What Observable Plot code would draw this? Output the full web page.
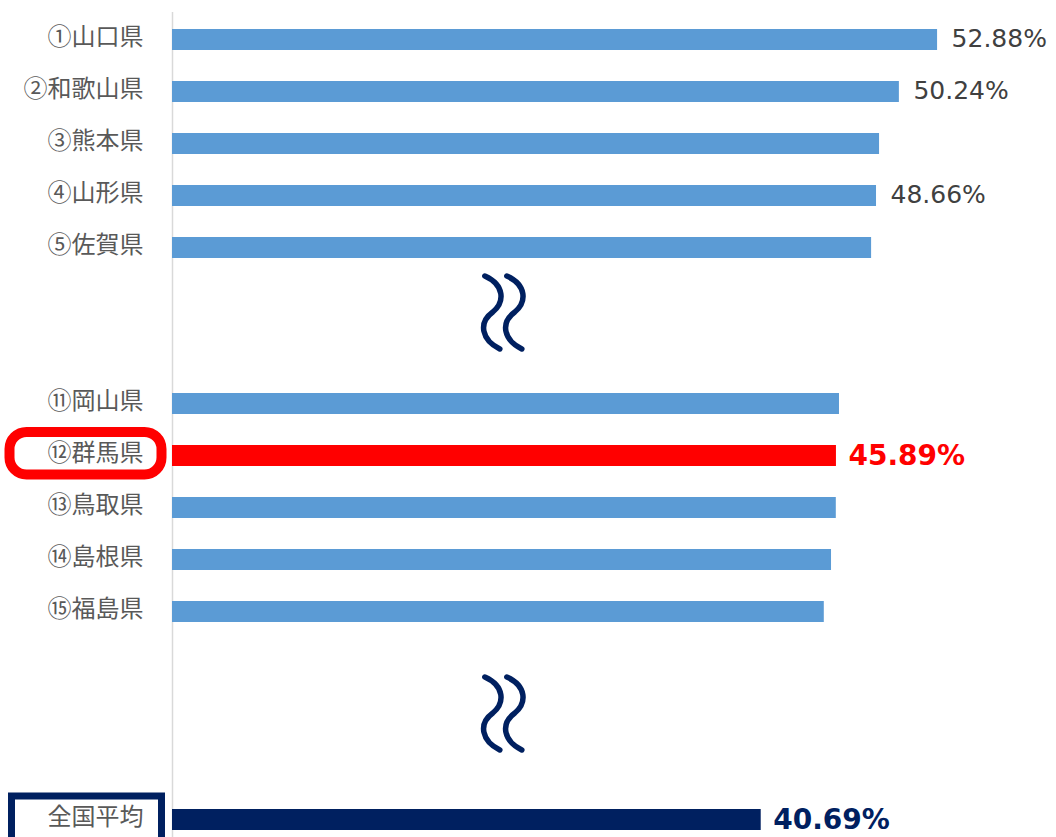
<!DOCTYPE html>
<html>
<head>
<meta charset="utf-8">
<script src="https://cdn.jsdelivr.net/npm/d3@7"></script>
<script src="https://cdn.jsdelivr.net/npm/@observablehq/plot@0.6"></script>
<style>
  html, body { margin: 0; padding: 0; background: #fff; }
  #chart svg { display: block; }
  #chart .jp-label text, #chart text.jp-label { font-feature-settings: "fwid" 1; }
</style>
</head>
<body>
<div id="chart"></div>
<script>
// ---- data ----
const labels = ["①山口県","②和歌山県","③熊本県","④山形県","⑤佐賀県","⑪岡山県","⑫群馬県","⑬鳥取県","⑭島根県","⑮福島県","全国平均"];
const values = [52.88, 50.24, 48.87, 48.66, 48.32, 46.10, 45.89, 45.88, 45.55, 45.05, 40.69];
const valueShown = [true, true, false, true, false, false, true, false, false, false, true];
const kinds = ["pref","pref","pref","pref","pref","pref","gunma","pref","pref","pref","national"];
// category slots including blank gaps (where the "≀" break marks sit)
const slots = ["①山口県","②和歌山県","③熊本県","④山形県","⑤佐賀県","_gap1","_gap2",
  "⑪岡山県","⑫群馬県","⑬鳥取県","⑭島根県","⑮福島県","_gap3","_gap4","_gap5","全国平均"];
const breakSlots = ["_gap1", "_gap4"];

const rows = labels.map((label, i) => ({label, value: values[i], shown: valueShown[i], kind: kinds[i]}));
const colors = {pref: "#5B9BD5", gunma: "#FF0000", national: "#002060"};

// ---- custom symbols ----
const squiggle = {
  draw(ctx) {
    for (const ox of [-11, 11]) {
      ctx.moveTo(ox - 8, -36);
      ctx.bezierCurveTo(ox + 12, -27, ox + 12, -10, ox, 0);
      ctx.bezierCurveTo(ox - 15, 11, ox - 11, 28, ox + 7, 37);
    }
  }
};
function roundRect(w, h, r) {
  return {
    draw(ctx) {
      const x0 = -w / 2, x1 = w / 2, y0 = -h / 2, y1 = h / 2;
      ctx.moveTo(x0 + r, y0);
      ctx.lineTo(x1 - r, y0);
      if (r > 0) ctx.arcTo(x1, y0, x1, y0 + r, r);
      ctx.lineTo(x1, y1 - r);
      if (r > 0) ctx.arcTo(x1, y1, x1 - r, y1, r);
      ctx.lineTo(x0 + r, y1);
      if (r > 0) ctx.arcTo(x0, y1, x0, y1 - r, r);
      ctx.lineTo(x0, y0 + r);
      if (r > 0) ctx.arcTo(x0, y0, x0 + r, y0, r);
      ctx.closePath();
    }
  };
}

const jp = "'Noto Sans CJK JP', 'Noto Sans', sans-serif";
const num = "'DejaVu Sans', Verdana, sans-serif";

const chart = Plot.plot({
  width: 1056,
  height: 837,
  marginTop: 12,
  marginBottom: 0,
  marginLeft: 172,
  marginRight: 0,
  x: {domain: [0, 61.1], axis: null},
  y: {domain: slots, range: [12.45, 846.05], paddingInner: 0.6, paddingOuter: 0.3, axis: null},
  marks: [
    Plot.ruleX([0], {stroke: "#d9d9d9", strokeWidth: 1.5}),
    Plot.barX(rows, {x: "value", y: "label", fill: d => colors[d.kind]}),
    // category labels
    Plot.text(rows, {x: 0, y: "label", text: "label", textAnchor: "end", dx: -29, dy: -3,
      fontSize: 24, fontFamily: jp, fill: "#595959", className: "jp-label"}),
    // value labels
    Plot.text(rows.filter(d => d.shown && d.kind === "pref"), {x: "value", y: "label",
      text: d => d.value.toFixed(2) + "%", textAnchor: "start", dx: 14, dy: -1,
      fontSize: 25, fontFamily: num, fill: "#404040"}),
    Plot.text(rows.filter(d => d.shown && d.kind !== "pref"), {x: "value", y: "label",
      text: d => d.value.toFixed(2) + "%", textAnchor: "start", dx: 12, fontWeight: "bold",
      fontSize: 28, fontFamily: num, fill: d => colors[d.kind]}),
    // break marks
    Plot.dot([breakSlots[0]], {x: 22.9, y: d => d, dy: 12, symbol: squiggle, fill: "none",
      stroke: "#002060", strokeWidth: 5.5, strokeLinecap: "round"}),
    Plot.dot([breakSlots[1]], {x: 22.9, y: d => d, dy: -3, symbol: squiggle, fill: "none",
      stroke: "#002060", strokeWidth: 5.5, strokeLinecap: "round"}),
    // highlight frames around labels
    Plot.dot(rows.filter(d => d.kind === "gunma"), {x: 0, y: "label", dx: -87, dy: -2.8,
      symbol: roundRect(152, 42.6, 17), fill: "none", stroke: "#FF0000", strokeWidth: 10}),
    Plot.dot(rows.filter(d => d.kind === "national"), {x: 0, y: "label", dx: -86, dy: 3,
      symbol: roundRect(150, 54, 0), fill: "none", stroke: "#002060", strokeWidth: 7})
  ]
});
document.getElementById("chart").appendChild(chart);
</script>
</body>
</html>
